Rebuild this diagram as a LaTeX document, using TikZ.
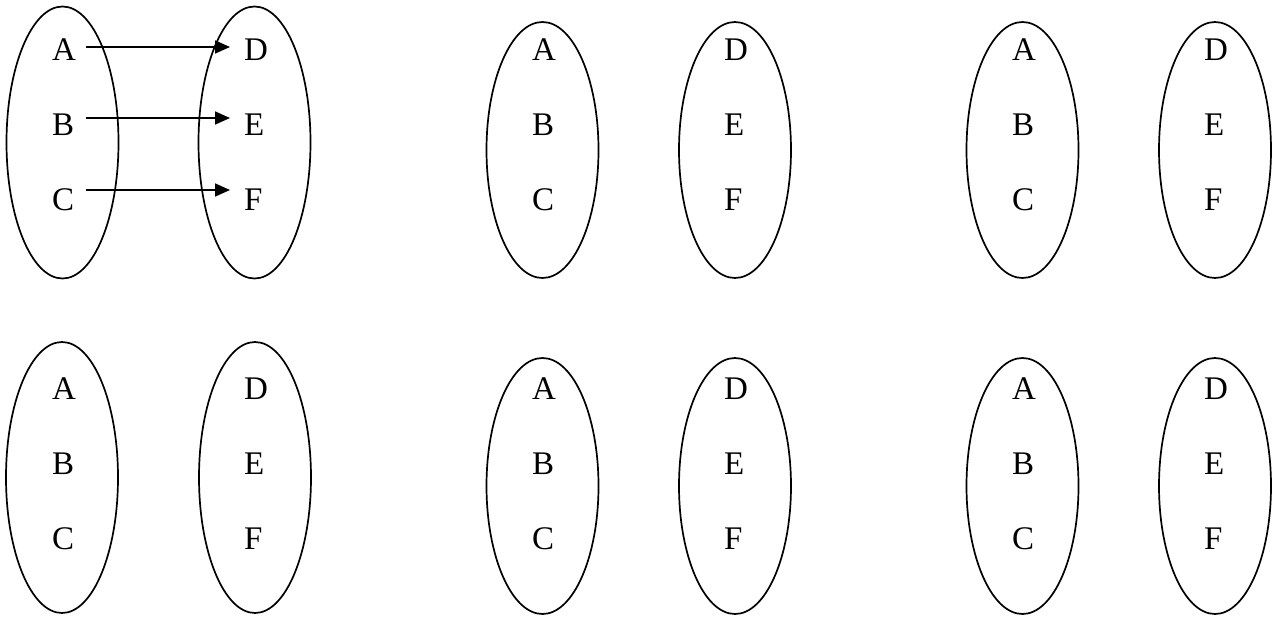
\documentclass[tikz,border=0pt]{standalone}
\usepackage{fontspec}
\setmainfont{Liberation Serif}
\usetikzlibrary{arrows.meta}
\begin{document}
\begin{tikzpicture}[x=1pt,y=-1pt,
  setline/.style={draw=black,line width=1.7pt},
  lbl/.style={anchor=base west,inner sep=0pt,font=\fontsize{33}{33}\selectfont},
  maparrow/.style={line width=1.7pt,-{Triangle[length=15pt,width=13pt]}}]
\useasboundingbox (0,0) rectangle (1279,616);
\foreach \n/\lx/\dx/\le/\re/\cy/\ry/\by in
 {1/52/244/62.5/254.5/142.5/136/0,
  2/532/724/542.5/735/150/128/0,
  3/1012/1204/1022.5/1215/150/128/0,
  4/52/244/62/255/477.5/135.5/339,
  5/532/724/542.5/735/486/128/339,
  6/1012/1204/1022.5/1215/486/128/339}{
  \draw[setline] (\le,\cy) ellipse [x radius=56pt, y radius=\ry pt];
  \draw[setline] (\re,\cy) ellipse [x radius=56pt, y radius=\ry pt];
  \node[lbl] (A\n) at (\lx,{60+\by}) {A};
  \node[lbl] (B\n) at (\lx,{135+\by}) {B};
  \node[lbl] (C\n) at (\lx,{210+\by}) {C};
  \node[lbl] (D\n) at (\dx,{60+\by}) {D};
  \node[lbl] (E\n) at (\dx,{135+\by}) {E};
  \node[lbl] (F\n) at (\dx,{210+\by}) {F};
}
\draw[maparrow] ([shift={(34pt,13pt)}]A1.base west) -- ([shift={(-14pt,13pt)}]D1.base west);
\draw[maparrow] ([shift={(34pt,17pt)}]B1.base west) -- ([shift={(-14pt,17pt)}]E1.base west);
\draw[maparrow] ([shift={(34pt,20pt)}]C1.base west) -- ([shift={(-14pt,20pt)}]F1.base west);
\end{tikzpicture}
\end{document}
